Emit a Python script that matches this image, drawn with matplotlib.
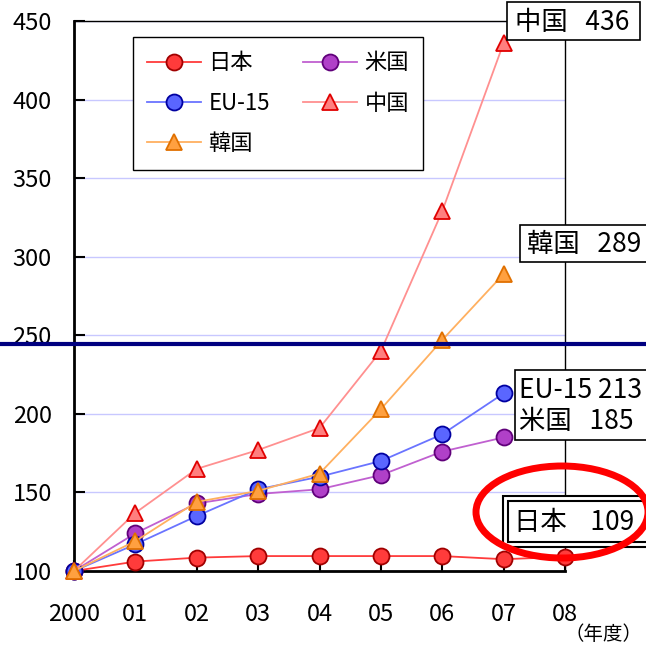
import matplotlib.pyplot as plt
from matplotlib.patches import Rectangle, Ellipse
from matplotlib.lines import Line2D

plt.rcParams['font.family'] = ['Noto Sans CJK JP', 'DejaVu Sans']

# 2000年度 = 100 とした指数
years = ['2000', '01', '02', '03', '04', '05', '06', '07', '08']
japan = [100, 106, 108.5, 109.5, 109.5, 109.5, 109.5, 107.5, 109]
usa = [100, 124, 143, 149, 152, 161, 176, 185]
eu15 = [100, 117, 135, 152, 160, 170, 187, 213]
china = [100, 137, 165, 177, 191, 240, 329, 436]
korea = [100, 119, 144, 151, 162, 203, 247, 289]

W, H = 646, 648
def fx(px):
    return px / W
def fy(py):
    return 1 - py / H

fig = plt.figure(figsize=(W / 100, H / 100), dpi=100)
ax = fig.add_axes([fx(74), fy(571), fx(565) - fx(74), fy(21) - fy(571)])

series = [
    ('日本', japan, 'o', '#ff3b3b', '#ff3b3b', '#a00000'),
    ('米国', usa, 'o', '#c060d0', '#b040c8', '#60007a'),
    ('EU-15', eu15, 'o', '#6a74ff', '#5a66ff', '#0000a0'),
    ('中国', china, '^', '#ff9090', '#ff7f7f', '#e00000'),
    ('韓国', korea, '^', '#ffb060', '#ffa040', '#e07000'),
]
lines = {}
for name, vals, mk, lc, fc, ec in series:
    x = list(range(len(vals)))
    ms = 11.5 if mk == 'o' else 12
    ln, = ax.plot(x, vals, color=lc, lw=1.3, marker=mk, ms=ms,
                  mfc=fc, mec=ec, mew=1.3, clip_on=False, zorder=3)
    lines[name] = ln

ax.set_xlim(0, 8)
ax.set_ylim(100, 450)
ax.set_xticks(range(len(years)))
ax.set_xticklabels(years)
ax.set_yticks(range(100, 451, 50))
ax.yaxis.grid(True, color='#c8c8ff', lw=1)
ax.set_axisbelow(True)

ax.tick_params(axis='x', direction='in', length=8, width=1.5, pad=23,
               labelsize=17, bottom=True, top=False)
ax.tick_params(axis='y', direction='in', length=8, width=1.5, pad=16,
               labelsize=17, left=True, right=False)
for s in ['left', 'bottom']:
    ax.spines[s].set_linewidth(2)
for s in ['top', 'right']:
    ax.spines[s].set_linewidth(1)

# 凡例 (2列)
order = ['日本', 'EU-15', '韓国', '米国', '中国']
leg = ax.legend([lines[n] for n in order], order, ncol=2,
                loc='upper left', bbox_to_anchor=(fx(133), fy(37)),
                bbox_transform=fig.transFigure, borderaxespad=0,
                fontsize=16, handlelength=2.4, handletextpad=0.35,
                columnspacing=1.5, labelspacing=0.78, borderpad=0.65,
                fancybox=False, framealpha=1, edgecolor='black')
leg.get_frame().set_linewidth(1)

def label_box(x0, y0, x1, y1, lw=1.2):
    fig.patches.append(Rectangle((fx(x0), fy(y1)), fx(x1) - fx(x0),
                                 fy(y0) - fy(y1), transform=fig.transFigure,
                                 fc='white', ec='black', lw=lw, zorder=4))

label_box(507, 2, 640, 40)
fig.text(fx(515), fy(22), f'中国   {china[-1]}', fontsize=19,
         ha='left', va='center', zorder=5)
label_box(520, 225, 660, 262)
fig.text(fx(527), fy(244), f'韓国   {korea[-1]}', fontsize=19,
         ha='left', va='center', zorder=5)
label_box(515, 370, 660, 440)
fig.text(fx(519), fy(406), f'EU-15 {eu15[-1]}\n米国   {usa[-1]}',
         fontsize=19, ha='left', va='center', linespacing=1.15, zorder=5)

# 日本のラベル (二重枠)
label_box(503, 496, 660, 547, lw=1.5)
label_box(508, 501, 660, 542, lw=1.5)
fig.text(fx(514), fy(523), f'日本    {japan[-1]:g}', fontsize=19,
         ha='left', va='center', zorder=5)

# 強調の楕円と水平線
fig.patches.append(Ellipse((fx(562), fy(512)), fx(172), fy(0) - fy(92),
                           transform=fig.transFigure, fill=False,
                           ec='#ff0000', lw=5, zorder=6))
fig.lines.append(Line2D([0, 1], [fy(344), fy(344)], transform=fig.transFigure,
                        color='#000080', lw=3, zorder=6))

fig.text(fx(603), fy(635), '（年度）', fontsize=14, ha='center', va='center')

fig.savefig('out.png', dpi=100)
